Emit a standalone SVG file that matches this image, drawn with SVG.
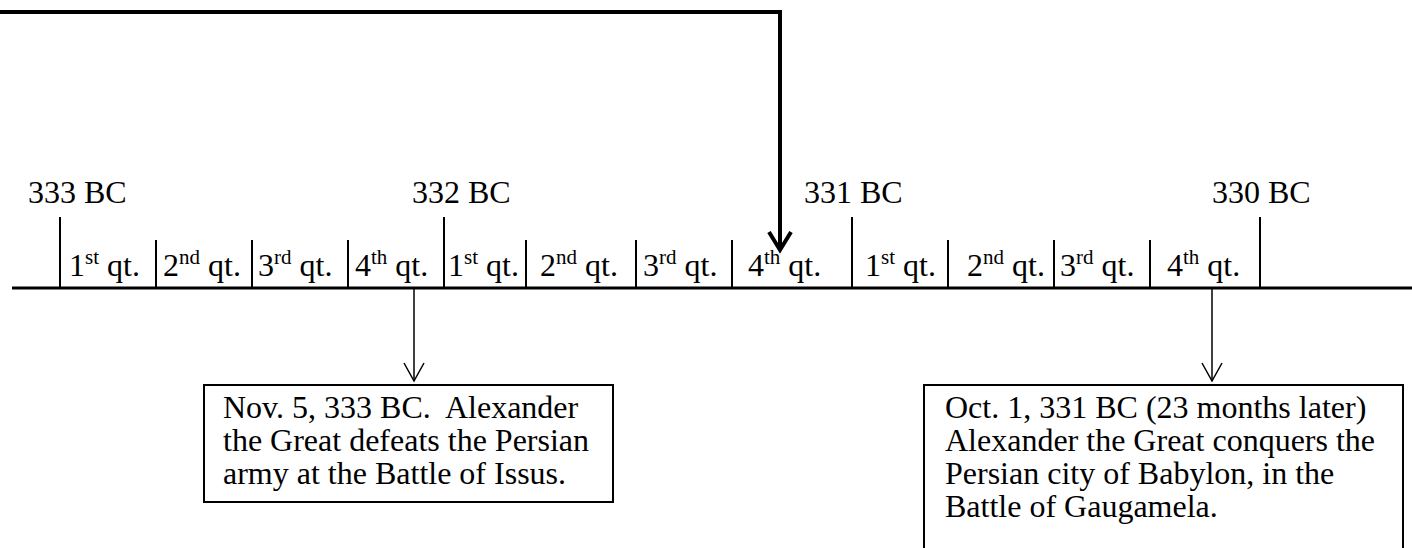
<svg xmlns="http://www.w3.org/2000/svg" width="1412" height="548" viewBox="0 0 1412 548">
<style>
text{font-family:"Liberation Serif","Times New Roman",serif;font-size:32px;fill:#000}
.sup{font-size:21px}
.tick{stroke:#000;stroke-width:2}
.axis{stroke:#000;stroke-width:3}
.box{fill:#fff;stroke:#000;stroke-width:2}
.thin{stroke:#000;stroke-width:1.5;fill:none}
.thick{stroke:#000;stroke-width:4;fill:none}
</style>
<rect width="1412" height="548" fill="#fff"/>
<g id="timeline">
<line class="axis" x1="12" y1="288" x2="1412" y2="288"/>
<line class="tick" x1="60" y1="217" x2="60" y2="288"/>
<line class="tick" x1="156" y1="240" x2="156" y2="288"/>
<line class="tick" x1="252" y1="240" x2="252" y2="288"/>
<line class="tick" x1="348" y1="240" x2="348" y2="288"/>
<line class="tick" x1="444" y1="217" x2="444" y2="288"/>
<line class="tick" x1="526" y1="240" x2="526" y2="288"/>
<line class="tick" x1="636" y1="240" x2="636" y2="288"/>
<line class="tick" x1="732" y1="240" x2="732" y2="288"/>
<line class="tick" x1="852" y1="217" x2="852" y2="288"/>
<line class="tick" x1="948" y1="240" x2="948" y2="288"/>
<line class="tick" x1="1054" y1="240" x2="1054" y2="288"/>
<line class="tick" x1="1150" y1="240" x2="1150" y2="288"/>
<line class="tick" x1="1260" y1="217" x2="1260" y2="288"/>
<text x="28" y="203">333 BC</text>
<text x="412" y="203">332 BC</text>
<text x="804" y="203">331 BC</text>
<text x="1212" y="203">330 BC</text>
<text x="69" y="276">1<tspan class="sup" dy="-12">st</tspan><tspan dy="12"> qt.</tspan></text>
<text x="163" y="276">2<tspan class="sup" dy="-12">nd</tspan><tspan dy="12"> qt.</tspan></text>
<text x="258" y="276">3<tspan class="sup" dy="-12">rd</tspan><tspan dy="12"> qt.</tspan></text>
<text x="355" y="276">4<tspan class="sup" dy="-12">th</tspan><tspan dy="12"> qt.</tspan></text>
<text x="448" y="276">1<tspan class="sup" dy="-12">st</tspan><tspan dy="12"> qt.</tspan></text>
<text x="540" y="276">2<tspan class="sup" dy="-12">nd</tspan><tspan dy="12"> qt.</tspan></text>
<text x="643" y="276">3<tspan class="sup" dy="-12">rd</tspan><tspan dy="12"> qt.</tspan></text>
<text x="748" y="276">4<tspan class="sup" dy="-12">th</tspan><tspan dy="12"> qt.</tspan></text>
<text x="865" y="276">1<tspan class="sup" dy="-12">st</tspan><tspan dy="12"> qt.</tspan></text>
<text x="967" y="276">2<tspan class="sup" dy="-12">nd</tspan><tspan dy="12"> qt.</tspan></text>
<text x="1060" y="276">3<tspan class="sup" dy="-12">rd</tspan><tspan dy="12"> qt.</tspan></text>
<text x="1167" y="276">4<tspan class="sup" dy="-12">th</tspan><tspan dy="12"> qt.</tspan></text>
</g>
<g id="issus">
<rect class="box" x="204" y="385" width="409" height="117"/>
<text x="223" y="418">Nov. 5, 333 BC.&#160; Alexander</text>
<text x="223" y="451">the Great defeats the Persian</text>
<text x="223" y="484">army at the Battle of Issus.</text>
</g>
<g id="gaugamela">
<rect class="box" x="924" y="385" width="479" height="180"/>
<text x="945" y="418">Oct. 1, 331 BC (23 months later)</text>
<text x="945" y="451">Alexander the Great conquers the</text>
<text x="945" y="484">Persian city of Babylon, in the</text>
<text x="945" y="517">Battle of Gaugamela.</text>
</g>
<g id="connectors">
<line class="thin" x1="414" y1="289" x2="414" y2="381"/>
<polyline class="thin" points="404,363 414,381 424,363"/>
<line class="thin" x1="1212" y1="289" x2="1212" y2="381"/>
<polyline class="thin" points="1202,363 1212,381 1222,363"/>
<polyline class="thick" points="0,12 780,12 780,249"/>
<polyline class="thick" points="769,232 780,250 791,232"/>
</g>
</svg>
